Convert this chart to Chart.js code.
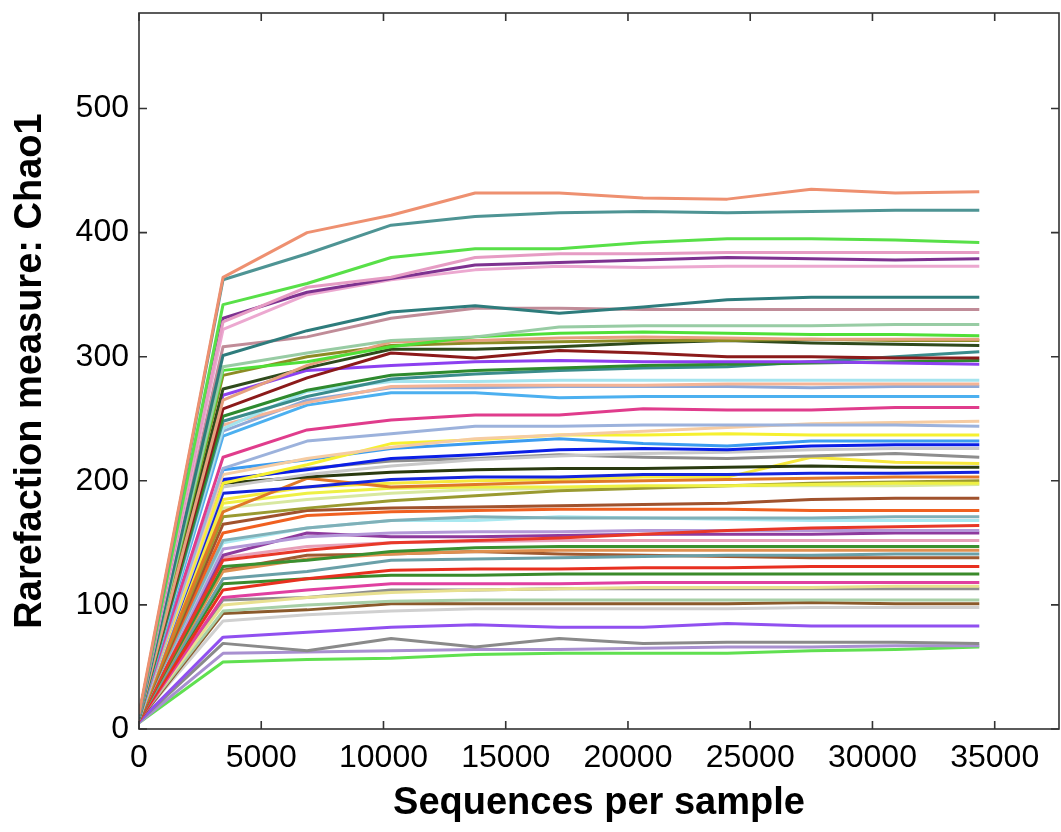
<!DOCTYPE html>
<html>
<head>
<meta charset="utf-8">
<title>Rarefaction Chao1</title>
<script src="https://cdn.jsdelivr.net/npm/chart.js@4.4.1/dist/chart.umd.min.js"></script>
<style>
    body { margin: 0; background: #fff; }
    #wrap { width: 1061px; height: 832px; }
</style>
</head>
<body>
<div id="wrap"><canvas id="rarefaction" width="1061" height="832"></canvas></div>
<script>
// sequencing depths (x) where Chao1 was computed
const seqPerSample = [0, 3437, 6874, 10311, 13748, 17185, 20622, 24059, 27496, 30933, 34370];

// tick labels on both axes
const xTickValues = [0, 5000, 10000, 15000, 20000, 25000, 30000, 35000];
const yTickValues = [0, 100, 200, 300, 400, 500];

// one colour per sample
const lineColors = [
    '#EE9070', '#4E9494', '#58E048', '#E69CC4', '#7E3290', '#ECA8D0', '#2E7C7C', '#C08C98',
    '#98CCA4', '#50E038', '#E6A07E', '#8C8C24', '#2F4A1C', '#8B1A1A', '#8C40F0', '#2E8A2E',
    '#3A8C8C', '#A4E4EE', '#F4B496', '#8FAAD8', '#4CB0F0', '#E03C8C', '#9CB2DC', '#F6CCA2',
    '#F6F030', '#3C9CF0', '#0A1EE6', '#C8C8C8', '#8E8E8E', '#2A3A10', '#1424DC', '#E07828',
    '#F6E83C', '#EEF044', '#9A9A30', '#D8E8A0', '#A0522D', '#F06020', '#80B0B8', '#A8E8F0',
    '#E83828', '#B498D8', '#8E3A9E', '#E8A0B8', '#3A9030', '#E09050', '#6AA0A8', '#A05A30',
    '#E83020', '#3A8A2A', '#E040A0', '#E8E090', '#8E8E8E', '#A8D0A8', '#8B5A2B', '#D0D0D0',
    '#9050F0', '#8A8A8A', '#A890D0', '#60E050'
];

// Chao1 values per sample, one row per line, read at each depth
const chao1 = [
    [12, 364, 400, 414, 432, 432, 428, 427, 435, 432, 433],
    [10, 362, 383, 406, 413, 416, 417, 416, 417, 418, 418],
    [11, 342, 359, 380, 387, 387, 392, 395, 395, 394, 392],
    [12, 328, 356, 364, 380, 383, 383, 384, 384, 384, 384],
    [11, 331, 352, 363, 374, 376, 378, 380, 379, 378, 379],
    [10, 322, 350, 362, 370, 373, 372, 373, 373, 373, 373],
    [9, 301, 321, 336, 341, 335, 340, 346, 348, 348, 348],
    [10, 308, 316, 331, 339, 339, 338, 338, 338, 338, 338],
    [10, 292, 303, 313, 316, 324, 325, 325, 325, 326, 326],
    [11, 289, 296, 308, 316, 319, 320, 319, 318, 318, 317],
    [9, 265, 293, 312, 313, 315, 316, 315, 314, 314, 314],
    [10, 285, 300, 309, 311, 312, 313, 313, 314, 313, 313],
    [9, 274, 291, 306, 306, 308, 311, 313, 311, 310, 309],
    [10, 258, 283, 303, 299, 305, 303, 300, 300, 299, 299],
    [11, 269, 289, 293, 296, 297, 296, 296, 296, 295, 294],
    [9, 252, 273, 285, 289, 291, 293, 294, 295, 296, 297],
    [8, 248, 268, 282, 286, 289, 291, 292, 296, 300, 304],
    [10, 242, 272, 280, 280, 281, 281, 281, 281, 281, 281],
    [9, 245, 263, 276, 277, 277, 277, 278, 278, 278, 278],
    [10, 240, 265, 275, 275, 276, 276, 276, 275, 276, 276],
    [8, 236, 261, 271, 271, 267, 268, 268, 268, 268, 268],
    [9, 219, 241, 249, 253, 253, 258, 257, 257, 259, 259],
    [8, 210, 232, 238, 244, 244, 245, 245, 245, 245, 244],
    [9, 205, 218, 227, 234, 237, 240, 243, 246, 247, 248],
    [10, 198, 213, 230, 233, 237, 237, 238, 237, 237, 237],
    [9, 209, 217, 226, 230, 234, 230, 228, 232, 232, 232],
    [10, 201, 209, 218, 221, 225, 226, 225, 228, 229, 229],
    [8, 195, 205, 212, 217, 220, 222, 223, 225, 226, 226],
    [9, 200, 210, 216, 218, 221, 219, 218, 220, 222, 219],
    [9, 198, 203, 207, 209, 210, 210, 211, 212, 211, 211],
    [10, 190, 195, 201, 203, 203, 205, 205, 206, 206, 207],
    [9, 175, 202, 195, 197, 199, 200, 201, 202, 203, 203],
    [10, 185, 195, 198, 200, 201, 203, 203, 219, 215, 214],
    [9, 182, 190, 194, 195, 195, 196, 196, 197, 198, 198],
    [8, 171, 178, 184, 188, 192, 194, 196, 198, 199, 200],
    [9, 178, 185, 190, 193, 194, 195, 196, 196, 196, 197],
    [8, 165, 176, 178, 179, 180, 181, 182, 185, 186, 186],
    [10, 158, 172, 175, 176, 177, 177, 177, 176, 176, 176],
    [9, 152, 162, 168, 171, 170, 170, 170, 170, 171, 171],
    [10, 150, 162, 168, 168, 171, 170, 169, 168, 168, 168],
    [8, 136, 144, 150, 152, 154, 157, 160, 162, 163, 164],
    [9, 145, 155, 158, 159, 159, 160, 160, 160, 160, 160],
    [10, 140, 158, 155, 155, 156, 157, 157, 157, 158, 158],
    [9, 138, 147, 150, 151, 152, 152, 152, 152, 152, 152],
    [8, 131, 136, 143, 146, 147, 147, 147, 147, 147, 147],
    [9, 127, 137, 141, 143, 144, 144, 144, 144, 144, 144],
    [8, 121, 127, 136, 137, 138, 139, 140, 140, 141, 141],
    [9, 128, 140, 141, 143, 141, 140, 139, 138, 138, 138],
    [7, 112, 121, 128, 129, 129, 130, 130, 131, 131, 131],
    [8, 117, 121, 124, 124, 125, 125, 125, 125, 125, 125],
    [7, 106, 112, 117, 117, 117, 118, 118, 118, 118, 118],
    [8, 100, 106, 110, 112, 113, 114, 114, 114, 115, 115],
    [7, 104, 106, 112, 112, 113, 113, 113, 113, 113, 113],
    [8, 95, 100, 103, 104, 104, 104, 104, 104, 104, 104],
    [7, 93, 96, 101, 101, 101, 101, 101, 102, 101, 101],
    [8, 87, 92, 95, 97, 97, 97, 97, 98, 98, 98],
    [6, 74, 78, 82, 84, 82, 82, 85, 83, 83, 83],
    [6, 69, 63, 73, 66, 73, 69, 70, 70, 70, 69],
    [5, 61, 62, 63, 64, 64, 65, 66, 66, 67, 67],
    [5, 54, 56, 57, 60, 61, 61, 61, 63, 64, 66]
];

const FONT = "'Liberation Sans', Arial, Helvetica, sans-serif";

// Box around the plot plus inward tick marks on all four sides
const frameTicks = {
    id: 'frameTicks',
    afterDraw(chart) {
        const ctx = chart.ctx;
        const a = chart.chartArea;
        const x = chart.scales.x;
        const y = chart.scales.y;
        const len = 8;
        ctx.save();
        ctx.strokeStyle = '#333';
        ctx.lineWidth = 1.6;
        ctx.strokeRect(a.left, a.top, a.right - a.left, a.bottom - a.top);
        ctx.beginPath();
        x.ticks.forEach(t => {
            const px = x.getPixelForValue(t.value);
            ctx.moveTo(px, a.bottom); ctx.lineTo(px, a.bottom - len);
            ctx.moveTo(px, a.top); ctx.lineTo(px, a.top + len);
        });
        y.ticks.forEach(t => {
            const py = y.getPixelForValue(t.value);
            ctx.moveTo(a.left, py); ctx.lineTo(a.left + len, py);
            ctx.moveTo(a.right, py); ctx.lineTo(a.right - len, py);
        });
        ctx.stroke();
        ctx.restore();
    }
};

const datasets = chao1.map((vals, i) => ({
    label: 'Sample ' + (i + 1),
    data: vals.map((v, j) => ({ x: seqPerSample[j], y: v })),
    borderColor: lineColors[i],
    borderWidth: 3,
    pointRadius: 0,
    tension: 0,
    fill: false,
    borderJoinStyle: 'round'
}));

new Chart(document.getElementById('rarefaction'), {
    type: 'line',
    data: { datasets: datasets },
    options: {
        responsive: false,
        animation: false,
        layout: { padding: { top: 13, right: 2, left: 0, bottom: 0 } },
        plugins: {
            legend: { display: false },
            tooltip: { enabled: false }
        },
        scales: {
            x: {
                type: 'linear',
                min: 0,
                max: 37630,
                grid: { display: false, drawTicks: false },
                border: { display: false },
                ticks: {
                    maxRotation: 0,
                    autoSkip: false,
                    padding: 10,
                    color: '#000',
                    font: { family: FONT, size: 32 },
                    callback: v => String(v)
                },
                afterBuildTicks(scale) {
                    scale.ticks = xTickValues.map(v => ({ value: v }));
                },
                title: {
                    display: true,
                    text: 'Sequences per sample',
                    color: '#000',
                    padding: { top: 0, bottom: 6 },
                    font: { family: FONT, size: 38, weight: 'bold' }
                },
                afterFit(scale) {
                    scale.height = 103;
                    scale.paddingLeft = 0;
                    scale.paddingRight = 0;
                }
            },
            y: {
                min: 0,
                max: 577,
                grid: { display: false, drawTicks: false },
                border: { display: false },
                ticks: {
                    padding: 10,
                    color: '#000',
                    font: { family: FONT, size: 32 },
                    callback: v => String(v)
                },
                afterBuildTicks(scale) {
                    scale.ticks = yTickValues.map(v => ({ value: v }));
                },
                title: {
                    display: true,
                    text: 'Rarefaction measure: Chao1',
                    color: '#000',
                    padding: { top: 8, bottom: 0 },
                    font: { family: FONT, size: 38, weight: 'bold' }
                },
                afterFit(scale) {
                    scale.width = 139;
                    scale.paddingTop = 0;
                    scale.paddingBottom = 0;
                }
            }
        }
    },
    plugins: [frameTicks]
});
</script>
</body>
</html>
